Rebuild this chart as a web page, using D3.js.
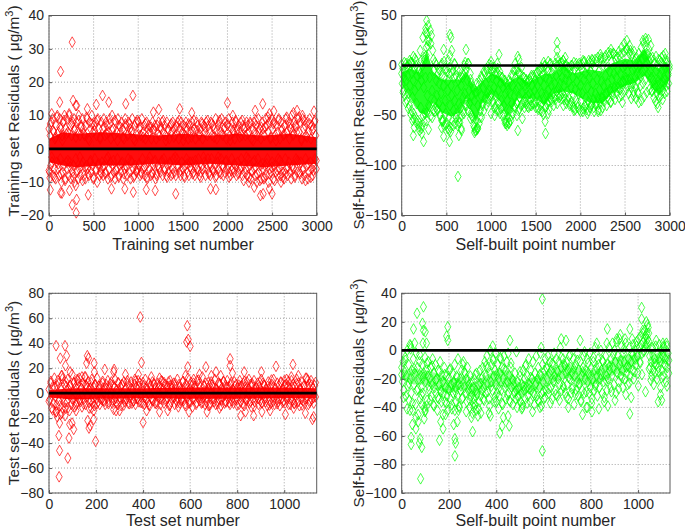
<!DOCTYPE html>
<html><head><meta charset="utf-8">
<script src="https://cdn.jsdelivr.net/npm/d3@7"></script>
<style>html,body{margin:0;background:#fff}svg{display:block}text{font-family:"Liberation Sans",Arial,sans-serif;fill:#262626}</style>
</head><body><svg id="c" width="685" height="531"></svg>
<script>
const trainCore=[[0,3,-4],[150,5,-5],[300,4.5,-5.5],[600,5,-5],[900,4.5,-5],[1200,4,-4.5],[1500,4.5,-5],[1800,4,-4.5],[2100,4.5,-5],[2400,4,-5.5],[2700,4.5,-5],[3000,3.5,-4.5]];
const trainPoints=[[130,23.2],[260,32],[120,14],[270,14.5],[310,13],[300,13],[430,12],[530,13.3],[600,16],[670,14],[860,13.5],[940,16],[30,10.5],[1170,11],[1230,11.8],[1465,12],[1600,10.8],[2000,13.8],[2060,10],[2310,11.5],[2395,13.5],[2470,10.5],[2520,11.3],[2740,10.8],[2780,11.5],[2840,10],[2970,11.3],
[10,-8.7],[15,-12.3],[130,-13.2],[145,-13.3],[230,-12.5],[260,-16.8],[305,-19.2],[310,-15.2],[300,-11],[440,-13.8],[700,-12],[850,-12],[945,-13],[1090,-12.2],[1190,-12.5],[1420,-13.5],[1810,-12],[1870,-12.2],[2240,-10],[2300,-11.5],[2370,-14],[2400,-13.5],[2470,-12],[2500,-13.5],[2600,-10]];
const trainBody=[6,-7,4,-5,8,-4,9,-8,5,-6,3,-9,7,-4,10,-6,5,-8,9,-3,6,-10,4,-7,8,-5,10,-9,6,-4,
9,-6,5,-8,10,-4,7,-9,4,-7,8,-5,9,-10,6,-3,8,-7,5,-9,10,-6,4,-8,7,-5,9,-4,6,-8,
4,-9,7,-5,9,-6,3,-8,8,-4,6,-7,10,-5,5,-9,7,-3,8,-6,4,-10,9,-5,6,-8,3,-7,8,-4,
6,-8,9,-5,4,-7,8,-3,7,-9,5,-6,9,-4,3,-8,10,-5,6,-7,4,-9,8,-6,5,-3,9,-8,7,-5,
5,-7,8,-4,6,-9,3,-6,9,-5,7,-8,4,-3,8,-7,6,-9,5,-4,9,-6,3,-8,7,-5,8,-7,4,-6,
8,-5,6,-8,4,-7,9,-3,5,-6,7,-8,3,-5,8,-9,6,-4,7,-6,5,-8,3,-7,8,-5,6,-4,7,-9,
3,-8,7,-5,8,-6,4,-7,6,-4,8,-8,5,-3,7,-6,4,-8,8,-5,6,-7,3,-4,7,-8,5,-6,8,-3,
6,-7,4,-8,7,-3,8,-5,3,-7,6,-8,8,-4,5,-6,7,-8,4,-5,8,-3,6,-7,3,-8,7,-4,5,-6,
8,-4,5,-7,6,-8,3,-5,8,-6,7,-3,4,-8,6,-7,8,-5,3,-6,7,-4,5,-8,8,-6,4,-3,7,-7,
5,-8,8,-3,4,-6,7,-7,6,-5,9,-8,3,-4,7,-6,8,-7,5,-3,9,-5,4,-8,6,-7,8,-4,3,-6,
7,-5,9,-7,4,-8,6,-3,8,-6,5,-7,3,-5,8,-8,6,-4,7,-7,5,-6,8,-3,4,-8,7,-5,6,-7,
4,-6,8,-8,7,-3,5,-5,8,-9,3,-7,6,-4,8,-6,5,-8,7,-10,4,-3,9,-7,6,-5,3,-9,8,-6,
6,-9,4,-5,9,-8,7,-3,5,-10,8,-6,3,-7,9,-4,6,-9,8,-5,4,-7,7,-8,5,-3,9,-6,3,-8,
8,-5,6,-7,4,-9,7,-3,9,-6,5,-8,8,-4,3,-7,6,-9,10,-5,4,-6,8,-8,7,-3,5,-7,9,-4,
5,-7,8,-4,3,-9,9,-6,6,-8,7,-3,4,-5,8,-9,5,-7,9,-4,3,-6,7,-8,6,-5,8,-3,4,-6];
const trainExtra=[-6.5,7.5,-2.5,5.5,-8.5,3.5,9.5,-4.5,6.5,-7.5,2.5,8.5,-9.5,4.5,-3.5,10.5,-5.5,7.5,-8.5,5.5,
3.5,-6.5,8.5,-2.5,6.5,-9.5,4.5,-5.5,9.5,-7.5,2.5,-3.5,7.5,-8.5,5.5,-6.5,8.5,-4.5,3.5,-7.5,
-5.5,6.5,-7.5,4.5,-2.5,7.5,-8.5,5.5,-3.5,8.5,-6.5,2.5,-8.5,6.5,-4.5,3.5,-7.5,7.5,-5.5,4.5,
7.5,-3.5,5.5,-8.5,2.5,-6.5,8.5,-4.5,6.5,-7.5,3.5,-5.5,7.5,-8.5,4.5,-2.5,6.5,-7.5,5.5,-3.5,
-7.5,4.5,-5.5,6.5,-3.5,8.5,-6.5,2.5,-8.5,5.5,-4.5,7.5,-7.5,3.5,-2.5,6.5,-5.5,8.5,-6.5,4.5,
2.5,-8.5,6.5,-4.5,7.5,-5.5,3.5,-7.5,8.5,-3.5,5.5,-6.5,4.5,-8.5,7.5,-2.5,6.5,-4.5,8.5,-7.5,
-4.5,7.5,-6.5,3.5,-8.5,5.5,-2.5,8.5,-7.5,4.5,-5.5,6.5,-3.5,7.5,-8.5,2.5,-6.5,5.5,-4.5,8.5,
5.5,-7.5,3.5,-5.5,8.5,-9.5,6.5,-2.5,4.5,-8.5,7.5,-6.5,2.5,-3.5,8.5,-7.5,5.5,-9.5,6.5,-4.5,
-8.5,6.5,-4.5,9.5,-7.5,3.5,-5.5,7.5,-9.5,2.5,-6.5,8.5,-3.5,5.5,-8.5,4.5,-7.5,9.5,-5.5,6.5,
7.5,-5.5,4.5,-8.5,6.5,-3.5,9.5,-7.5,2.5,-6.5,8.5,-9.5,3.5,-4.5,7.5,-8.5,5.5,-6.5,8.5,-3.5];

const selfACore=[[0,-7,-19],[100,-3,-33],[200,-7,-47],[280,15,-50],[350,-6,-37],[450,-14,-47],[550,-14,-51],[650,-14,-47],[720,-6,-33],[830,-24,-57],[900,-16,-38],[1000,-8,-28],[1100,-11,-36],[1180,-18,-52],[1300,-11,-33],[1420,-17,-33],[1500,-13,-33],[1600,-8,-40],[1700,-8,-28],[1820,0,-26],[1920,-8,-28],[2100,-4,-37],[2250,-6,-38],[2350,2,-28],[2500,7,-20],[2600,5,-18],[2720,17,-10],[2800,0,-22],[2880,-3,-30],[2970,2,-20],[3000,-3,-13]];
const selfAPoints=[[280,45],[270,37],[285,32],[290,25],[275,18],[540,31],[550,28],[470,16],[560,15],[540,10],[720,16],[1090,11],[1300,9],[1310,6],[1740,23],[1740,15],[1740,8],[130,9],[130,-70],[245,-76],[300,-64],[470,-71],[535,-76],[460,-55],[530,-65],[630,-111],[640,-70],[670,-65],[650,-57],[1300,-65],[1610,-68],[1605,-56],[2870,-42],[2570,-33],[2640,-27],[1810,-40],[1930,-45],[2080,-48],[2230,-45],[2340,-37],[2470,-37],[1350,-53],[1290,-50],[1180,-60],[1040,-50],[1000,-48],[830,-65],[770,-53],[200,-65],[140,-62],
[50,2],[110,3],[160,5],[220,5],[250,8],[450,2],[520,5],[590,2],[710,3],[1000,4],[1070,2],[1270,2],[1590,3],[1640,4],[1780,2],[1830,8],[2030,5],[2130,6],[2230,8],[2340,12],[2520,17],[2560,15],[2700,25],[2730,27],[2950,12],
[120,-55],[225,-68],[445,-62],[815,-62],[850,-63],[1160,-58],[1200,-57],[1640,-48],[2200,-46],[2920,-34]];
const selfABody=[-8,-18,-3,-25,-12,-30,-6,-15,-2,-35,-10,-28,1,-40,-20,3,-45,-8,-32,-15,-48,-4,-25,-52,0,-38,-10,-55,-20,-5,
-58,-8,-42,-15,-60,0,-50,-22,5,-48,-12,10,-55,-30,20,-40,25,-12,35,-50,30,-25,15,-45,-5,-35,3,-42,-15,-30,
-45,-8,-38,-18,-50,-5,-28,-55,-10,-42,-20,-60,-12,-35,-48,-3,-58,-25,-15,-52,-8,-40,-62,-20,-30,-55,-5,-45,-12,-35,
-58,-10,-48,-25,-60,-15,-38,-52,-5,-42,-20,-50,-12,-32,-45,0,-28,-40,-3,-35,-15,-45,2,-25,-38,-8,-48,-18,-30,-52,
-22,-60,-35,-65,-28,-55,-18,-62,-40,-25,-58,-15,-45,-30,-52,-12,-38,-22,-45,-8,-32,-18,-40,-5,-28,-36,-12,-25,-3,-33,
0,-28,-12,-38,-5,-22,-42,-8,-30,-15,-45,-3,-25,-38,-10,-48,-18,-35,-12,-50,-22,-40,-15,-55,-28,-18,-58,-35,-25,-52,
-15,-45,-28,-55,-10,-38,-20,-48,-5,-30,-42,-12,-25,-38,-3,-22,-45,-8,-32,-15,-40,-2,-28,-18,-36,-12,-42,-20,-32,-15,
-38,-18,-30,-42,-14,-28,-35,-12,-40,-20,-32,-10,-38,-25,-15,-42,-8,-30,-20,-44,-5,-35,-15,-40,-2,-28,-46,-10,-32,-20,
0,-42,-12,-30,-38,-5,-25,-44,-15,-32,2,-20,-36,-8,-28,-40,-3,-18,-34,-10,-26,-38,0,-22,-32,-6,-18,-30,3,-12,
-28,5,-20,-34,0,-14,-38,-8,-26,-2,-32,-16,-40,-5,-22,-36,0,-12,-30,-42,-4,-24,-34,2,-16,-38,-8,-28,-44,0,
-20,-36,-4,-28,-46,3,-14,-40,-8,-32,-44,0,-22,-36,5,-12,-42,-6,-26,-38,2,-18,-34,-46,-2,-28,-40,4,-14,-32,
-44,-6,-24,-38,6,-16,-32,-42,0,-20,-36,8,-10,-28,-40,-2,-18,-34,10,-6,-26,-36,4,-14,-30,12,-8,-22,-34,6,
-12,-28,8,-4,-22,-32,10,-8,-18,-30,12,-2,-16,-26,14,0,-12,-24,16,-6,-20,-28,12,2,-14,-22,10,-4,-18,-26,
14,-2,-12,-22,8,-8,-16,-28,12,0,-10,-20,18,6,-6,-18,22,10,-4,-14,24,12,2,-8,26,16,4,-6,20,-12,
-25,8,-15,-32,2,-20,-36,-5,-28,-38,0,-15,-32,5,-10,-30,8,-5,-25,10,-12,-28,6,-2,-20,-26,4,-8,-18,0];
const selfAExtra=[1,-27,3,-37,-1,-43,5,-49,2,-53,7,-57,-3,-61,15,-63,28,-56,33,-47,40,-41,22,-52,6,-46,1,-44,-4,
-49,0,-56,4,-59,-6,-63,-2,-66,-8,-60,1,-52,-4,-57,-12,-63,-9,-48,-7,-40,2,-38,-14,-50,-24,-67,-26,-64,
-20,-52,-11,-40,-6,-34,-3,-33,1,-30,-5,-36,-2,-41,-7,-44,-6,-43,-12,-49,-15,-56,-19,-58,-17,-50,-10,-41,-4,
-38,-7,-43,-9,-39,-12,-37,-14,-41,-16,-40,-10,-38,-12,-37,-7,-42,-5,-45,-3,-49,-1,-41,-2,-36,1,-34,-3,-32,
2,-30,4,-29,-1,-33,5,-31,1,-35,-2,-38,0,-41,3,-44,-1,-42,2,-46,1,-43,4,-41,-2,-45,3,-40,5,-42,
6,-38,8,-34,11,-33,7,-30,10,-28,13,-24,16,-26,12,-23,10,-22,14,-24,18,-16,22,-15,25,-14,20,-18,12,
-30,4,-33,-2,-37,1,-35,6,-31,9,-27,11,-24,7,-26,5,-23,9,-20,6,-18,3,-16,-1,-14,2,-10,-3];

const testCore=[[0,2.5,-3.5],[100,4,-5],[200,4,-4.5],[400,4,-4],[600,4.5,-4.5],[800,4.5,-4.5],[1000,4.5,-4],[1138,4,-4]];
const testPoints=[[30,38],[68,38],[75,30],[48,28],[70,22],[90,17],[388,61],[393,24.5],[588,54],[585,41],[592,43],[600,37.5],[590,21],[770,27.5],[770,22],[780,16],[667,21],[710,17],[830,17],[903,17],[965,21.5],[1037,23],[1060,14],[160,24],[163,30],[168,28],[192,24],[193,17],[237,19],[277,19],[275,17],[325,15],[380,15],[470,12],[515,10],
[43,-67],[45,-46],[42,-34],[80,-52],[85,-36],[105,-29],[88,-25],[98,-24],[45,-24],[30,-15],[35,-19],[165,-22],[170,-28],[175,-26],[190,-21],[198,-38.5],[190,-14],[285,-14],[300,-14],[400,-23.5],[415,-14],[470,-15],[505,-14],[550,-11],[595,-15],[672,-15],[725,-12],[815,-18],[835,-15],[870,-18],[905,-15],[940,-14],[1005,-17],[1040,-12],[1090,-16],[1120,-21],[1125,-19],
[55,14],[120,11],[140,13],[155,13],[365,11],[435,13],[580,14],[615,11],[640,15],[690,14],[730,14],[850,11],[1010,11],[1030,13],[1095,12],[55,-16],[70,-12],[115,-14],[180,-12],[275,-13]];
const testBody=[3,-5,8,-12,5,-8,12,-3,-15,6,10,-6,-10,4,14,-12,-4,7,-18,9,-7,11,3,-14,6,-9,15,-5,8,-11,
5,-8,10,-4,12,-7,4,-11,8,-5,13,-9,6,-3,9,-12,4,-6,11,-8,5,-10,7,-4,12,-7,3,-9,6,-5,
8,-6,4,-9,7,-4,10,-7,5,-3,9,-8,6,-5,11,-4,3,-9,8,-6,5,-10,7,-4,9,-7,4,-5,10,-8,
6,-4,9,-8,3,-6,7,-9,5,-4,10,-7,8,-3,4,-8,6,-9,11,-5,3,-7,8,-10,5,-4,9,-6,7,-8,
4,-7,8,-3,6,-9,10,-5,3,-8,7,-6,5,-4,9,-10,6,-7,4,-3,8,-9,5,-6,11,-4,7,-8,3,-5,
9,-6,5,-10,7,-4,12,-8,3,-7,6,-11,8,-5,4,-9,10,-3,7,-6,5,-8,13,-4,6,-9,8,-7,4,-10,
6,-8,9,-4,5,-7,11,-9,3,-6,8,-5,7,-10,4,-3,9,-8,6,-7,10,-4,5,-9,7,-6,3,-8,9,-5,
7,-5,4,-9,10,-7,6,-3,8,-10,5,-6,9,-4,3,-8,7,-11,6,-5,10,-7,4,-3,8,-9,5,-6,11,-8,
8,-4,6,-7,3,-10,9,-6,5,-8,7,-3,11,-9,4,-5,8,-7,6,-10,9,-4,3,-6,10,-8,7,-5,5,-9,
4,-9,10,-6,7,-8,5,-3,11,-7,8,-10,3,-5,9,-6,6,-8,12,-4,5,-9,7,-6,10,-5,4,-8,6,-3];
const testExtra=[-6.5,9.5,-13.5,4.5,-9.5,7.5,-17,11.5,-7.5,5.5,-11.5,6.5,-4.5,8.5,-9.5,7.5,-5.5,3.5,-8.5,6.5,
4.5,-7.5,8.5,-3.5,6.5,-8.5,5.5,-4.5,9.5,-6.5,3.5,-8.5,7.5,-5.5,4.5,-7.5,8.5,-3.5,6.5,-9.5,
-5.5,7.5,-8.5,3.5,-6.5,9.5,-4.5,5.5,-7.5,8.5,-3.5,4.5,-9.5,6.5,-5.5,7.5,-8.5,3.5,-4.5,9.5,
8.5,-4.5,5.5,-9.5,6.5,-3.5,7.5,-7.5,4.5,-5.5,9.5,-8.5,3.5,-6.5,8.5,-4.5,5.5,-7.5,10.5,-3.5,
-7.5,5.5,-3.5,8.5,-9.5,6.5,-4.5,3.5,-8.5,7.5,-5.5,9.5,-6.5,4.5,-7.5,8.5,-3.5,5.5,-9.5,6.5,
5.5,-8.5,9.5,-5.5,3.5,-6.5,7.5,-10.5,4.5,-4.5,8.5,-7.5,6.5,-3.5,5.5,-9.5,10.5,-6.5,3.5,-8.5,
-4.5,8.5,-7.5,6.5,-3.5,9.5,-5.5,4.5,-8.5,7.5,-6.5,3.5,-9.5,5.5,-4.5,10.5,-7.5,6.5,-3.5,8.5];

const selfBCore=[[0,-14,-20],[50,-13,-24],[100,-14,-24],[150,-16,-28],[200,-21,-30],[260,-18,-27],[300,-24,-34],[350,-18,-27],[400,-14,-25],[450,-14,-26],[500,-23,-32],[550,-19,-29],[600,-16,-27],[650,-12,-22],[700,-9,-19],[750,-12,-24],[800,-14,-25],[850,-12,-22],[900,-5,-17],[950,-3,-15],[1000,-3,-9],[1030,10,5],[1060,-4,-10],[1100,0,-9],[1135,-2,-8]];
const selfBPoints=[[80,-90],[595,-70.5],[595,36],[92,30.5],[65,26],[88,19],[92,14],[100,13],[50,15],[195,16.5],[190,10],[195,7],[870,15],[965,15],[1015,30],[1015,22],[1035,20],[1040,18],[225,-74],[225,-62],[228,-65],[160,-63],[85,-68],[40,-66],[40,-61],[75,-65],[78,-62],[965,-44.5],[1095,-31],[60,-55],[45,-52],[70,-50],[95,-48],[35,-42],[105,-39],[165,-50],[175,-55],[185,-45],[220,-52],[235,-50],[225,-42],[240,-42],[300,-57],[295,-47],[305,-40],[335,-44],[370,-44],[375,-46],[415,-58],[425,-53],[430,-47],[455,-53],[450,-46],[410,-41],
[35,4],[55,5],[90,5],[105,5],[385,3],[458,7],[590,2],[675,8],[695,7],[755,7],[825,5],[868,5],[910,8],[925,11],[945,8],[975,8],[1020,14],[1045,12],[1105,5],[1120,5],
[85,-38],[100,-42],[315,-42],[400,-36],[510,-40],[585,-40],[705,-40],[765,-45],[785,-40],[805,-43],[1085,-36],[1100,-35]];
const selfBBody=[-12,-22,-8,-28,-15,-5,-32,-18,0,-25,-10,-35,-20,3,-30,-14,-42,-6,-24,-16,-38,-2,-28,-12,-45,-20,-8,-34,-18,-26,
-10,-30,-16,-40,-5,-22,-14,-35,-18,-8,-28,-20,-12,-32,-24,-6,-38,-16,-26,-10,-30,-20,-42,-14,-34,-24,-8,-28,-36,-18,
-22,-30,-12,-36,-26,-18,-32,-42,-20,-28,-14,-34,-24,-38,-16,-30,-22,-10,-26,-36,-18,-32,-6,-24,-40,-20,-28,-14,-34,-10,
-8,-26,-16,-30,-20,-36,-12,-28,-24,-40,-18,-32,-22,-44,-26,-34,-20,-38,-28,-16,-30,-46,-24,-36,-14,-32,-20,-28,-12,-34,
-26,-8,-30,-18,-4,-24,-12,-34,-16,0,-22,-10,-28,-6,-18,-36,-14,-2,-24,-30,-10,-20,-32,-16,-6,-28,-12,-38,-20,-4,
-26,-14,-34,-8,-22,-2,-30,-18,-36,-12,-26,-20,-38,-24,-30,-16,-34,-28,-40,-22,-32,-26,-18,-36,-30,-24,-38,-14,-28,-20,
-34,-10,-26,-18,-32,-6,-24,-36,-14,-28,-20,-8,-30,-38,-16,-24,-4,-32,-20,-12,-36,-26,-2,-18,-30,-10,-22,-34,-14,-6,
-28,-12,-20,-4,-30,-16,-8,-26,-14,-34,-10,-22,-2,-18,-28,-6,-14,-32,-20,-8,-24,2,-12,-28,-18,-6,-26,-10,-30,-16,
-8,-24,-14,-34,-4,-20,-12,-30,-16,-26,-6,-38,-18,-10,-28,-22,-2,-32,-14,-24,-8,-36,-18,-28,-12,-4,-30,-20,-14,-40,
-6,-22,-16,-30,-2,-26,-12,-34,-20,-8,-28,-14,2,-24,-18,-32,-6,-10,-26,-20,0,-14,-30,-8,-22,-36,-12,-4,-18,-28,
-10,-20,2,-14,-26,-6,-18,5,-12,-24,0,-8,-30,6,-16,-4,-22,8,-10,-18,3,-14,-26,-2,-8,-20,5,-12,-16,-24,
-6,-12,2,-18,-8,-2,-14,4,-20,-6,0,-10,6,-4,-16,8,2,-8,10,4,-2,12,6,0,14,10,4,12,8,16,
6,-4,-12,-8,-18,2,-14,-24,-6,-16,3,-10,-20,-2,-12,4,-8,-26,0,-14,-4,-18,2,-10,-6,-22,3,-12,-2,-16];
const selfBExtra=[-17,-33,-7,-41,-23,1,-37,-13,-47,-27,-3,-31,-19,-43,-9,-25,-35,-11,-39,-21,-33,-15,-29,-45,-17,-37,-27,-13,-41,-23,
-29,-19,-39,-25,-33,-15,-43,-21,-35,-27,-37,-17,-31,-41,-23,-19,-35,-11,-29,-39,-25,-7,-33,-17,-27,-5,-37,-13,-23,-31,
-35,-9,-21,-29,-1,-33,-15,-41,-25,-11,-37,-27,-19,-43,-31,-23,-35,-17,-39,-29,-33,-13,-27,-37,-9,-21,-31,-15,-35,-5,
-25,-11,-33,-19,-3,-27,-13,-31,-7,-23,-35,-15,-1,-29,-9,-19,-37,-5,-25,-13,-41,-17,-7,-33,-21,-39,-11,-29,-3,-35,
-15,-27,-7,-19,1,-31,-11,-23,-33,-3,-15,3,-25,-9,-17,-1,-29,5,-13,-21,1,-9,7,-15,-5,-19,3,-11,-25,-7];

function panel(o){
  const svg=d3.select("#c");
  const x=d3.scaleLinear().domain(o.xd).range([o.l,o.r]);
  const y=d3.scaleLinear().domain(o.yd).range([o.b,o.t]);
  const g=svg.append("g");
  const grid=g.append("g").attr("stroke","#8a8a8a").attr("stroke-width",.8).attr("stroke-dasharray","1 2");
  grid.selectAll(".gx").data(o.xt).join("line").attr("x1",d=>x(d)).attr("x2",d=>x(d)).attr("y1",o.t).attr("y2",o.b);
  grid.selectAll(".gy").data(o.yt).join("line").attr("y1",d=>y(d)).attr("y2",d=>y(d)).attr("x1",o.l).attr("x2",o.r);
  const area=d3.area().x(d=>x(d[0])).y0(d=>y(d[2])).y1(d=>y(d[1]));
  g.append("path").attr("d",area(o.core)).attr("fill",o.color).attr("opacity",o.coreOp);
  const sym=d3.symbol().type(d3.symbolDiamond).size(33);
  const last=o.xd[1]-5;
  const spread=a=>a.map((v,i)=>[i/(a.length-1)*last,v]);
  const pts=spread(o.body).concat(spread(o.extra),o.pts);
  g.selectAll(".pt").data(pts).join("path").attr("d",sym).attr("fill","none").attr("stroke",o.color).attr("stroke-width",.7)
    .attr("transform",d=>`translate(${x(d[0])},${y(d[1])})`);
  g.append("rect").attr("x",o.l).attr("y",o.t).attr("width",o.r-o.l).attr("height",o.b-o.t).attr("fill","none").attr("stroke","#5a5a5a").attr("stroke-width",1);
  const xa=d3.axisBottom(x).tickValues(o.xt).tickSize(-3).tickPadding(6).tickFormat(d3.format("d"));
  const ya=d3.axisLeft(y).tickValues(o.yt).tickSize(-3).tickPadding(5).tickFormat(d3.format("d"));
  const ax=g.append("g").attr("transform",`translate(0,${o.b})`).call(xa);
  const ay=g.append("g").attr("transform",`translate(${o.l},0)`).call(ya);
  [ax,ay].forEach(a=>{a.select(".domain").remove();a.selectAll("line").attr("stroke","#5a5a5a");a.selectAll("text").style("font-size","14px").style("font-family",'"Liberation Sans"').attr("fill","#262626");});
  g.append("line").attr("x1",x(o.xd[0])).attr("x2",x(o.xd[1])).attr("y1",y(0)).attr("y2",y(0)).attr("stroke","#000").attr("stroke-width",2.6);
  g.append("text").attr("x",o.xc).attr("y",o.b+o.xo).attr("text-anchor","middle").style("font-size","16px").text(o.xl);
  const yl=g.append("text").attr("transform",`translate(${o.yx},${o.yc}) rotate(-90)`).attr("text-anchor","middle").style("font-size","15.4px");
  yl.append("tspan").text(o.yl+" ( μg/m");
  yl.append("tspan").attr("dy",-6).style("font-size","11px").text("3");
  yl.append("tspan").attr("dy",6).text(")");
}
panel({l:49,r:316.7,t:15.5,b:215.5,xd:[0,3000],yd:[-20,40],xt:d3.range(0,3001,500),yt:d3.range(-20,41,10),color:"#ff0000",core:trainCore,pts:trainPoints,body:trainBody,extra:trainExtra,coreOp:.95,xl:"Training set number",xc:183,xo:34,yl:"Training set Residuals",yx:19,yc:111});
panel({l:401.7,r:669.7,t:15.5,b:215.5,xd:[0,3000],yd:[-150,50],xt:d3.range(0,3001,500),yt:d3.range(-150,51,50),color:"#00ff00",core:selfACore,pts:selfAPoints,body:selfABody,extra:selfAExtra,coreOp:.85,xl:"Self-built point number",xc:535.5,xo:34,yl:"Self-built point Residuals",yx:364,yc:115});
panel({l:49,r:316.7,t:293.3,b:493,xd:[0,1138],yd:[-80,80],xt:d3.range(0,1001,200),yt:d3.range(-80,81,20),color:"#ff0000",core:testCore,pts:testPoints,body:testBody,extra:testExtra,coreOp:.95,xl:"Test set number",xc:183,xo:33,yl:"Test set Residuals",yx:19,yc:393});
panel({l:401.7,r:670,t:293.3,b:493,xd:[0,1135],yd:[-100,40],xt:d3.range(0,1001,200),yt:d3.range(-100,41,20),color:"#00ff00",core:selfBCore,pts:selfBPoints,body:selfBBody,extra:selfBExtra,coreOp:.4,xl:"Self-built point number",xc:535.5,xo:33,yl:"Self-built point Residuals",yx:364,yc:393});
</script></body></html>
